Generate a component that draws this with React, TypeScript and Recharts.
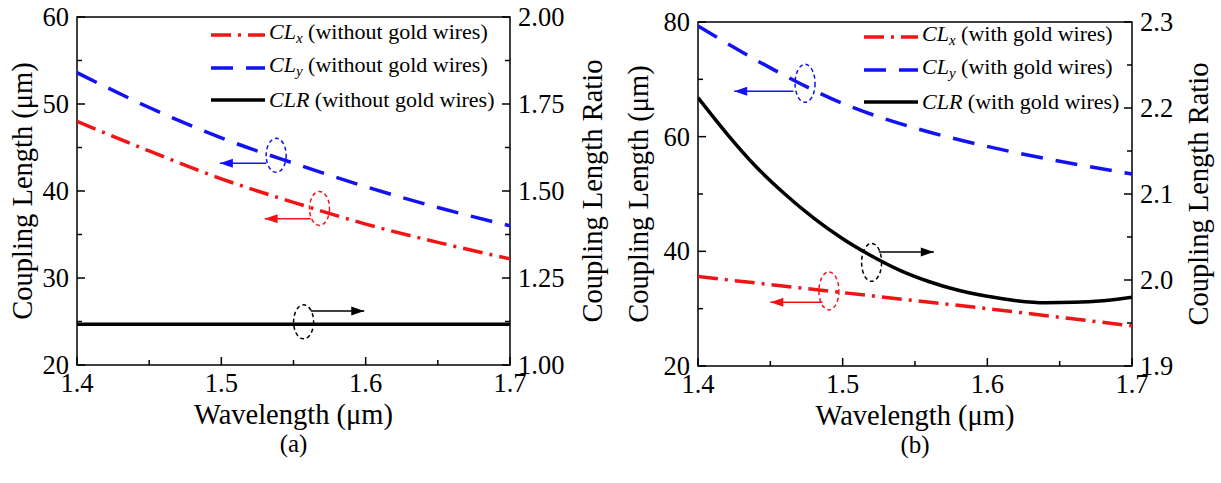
import React from 'react';
import { LineChart, Line, XAxis, YAxis, ReferenceArea, ReferenceLine, ReferenceDot, Legend } from 'recharts';

const FONT = '"Liberation Serif", "Times New Roman", serif';
const RED = '#f21414';
const BLUE = '#1212f5';
const BLACK = '#000000';

// ---------- Panel (a): without gold wires ----------
const wlA = [1.4, 1.45, 1.5, 1.55, 1.6, 1.65, 1.7];
const clxA = [48.0, 44.6, 41.4, 38.7, 36.2, 34.1, 32.2];
const clyA = [53.6, 49.6, 46.1, 43.2, 40.5, 38.1, 36.0];
const clrA = [1.117, 1.117, 1.117, 1.117, 1.117, 1.117, 1.117];

// ---------- Panel (b): with gold wires ----------
const wlB = [1.4, 1.45, 1.5, 1.55, 1.6, 1.65, 1.7];
const clxB = [35.6, 34.2, 32.8, 31.4, 30.0, 28.5, 27.0];
const clyB = [79.3, 72.0, 65.8, 61.5, 58.3, 55.7, 53.5];
const wlRatioB = [1.4, 1.42, 1.44, 1.46, 1.48, 1.5, 1.52, 1.54, 1.56, 1.58, 1.6, 1.62, 1.64, 1.66, 1.68, 1.7];
const clrB = [2.212, 2.17, 2.132, 2.1, 2.072, 2.048, 2.028, 2.011, 1.998, 1.988, 1.981, 1.976, 1.9735, 1.974, 1.976, 1.98];

// ---------- Ticks ----------
const xMajor = [1.4, 1.5, 1.6, 1.7];
const xMinor = [1.45, 1.55, 1.65];
const xLabels = ['1.4', '1.5', '1.6', '1.7'];

const yLeftMajorA = [20, 30, 40, 50, 60];
const yLeftMinorA = [25, 35, 45, 55];
const yLeftLabelsA = ['20', '30', '40', '50', '60'];
const yRightMajorA = [1.0, 1.25, 1.5, 1.75, 2.0];
const yRightMinorA = [1.125, 1.375, 1.625, 1.875];
const yRightLabelsA = ['1.00', '1.25', '1.50', '1.75', '2.00'];

const yLeftMajorB = [20, 40, 60, 80];
const yLeftMinorB = [30, 50, 70];
const yLeftLabelsB = ['20', '40', '60', '80'];
const yRightMajorB = [1.9, 2.0, 2.1, 2.2, 2.3];
const yRightMinorB = [1.95, 2.05, 2.15, 2.25];
const yRightLabelsB = ['1.9', '2.0', '2.1', '2.2', '2.3'];

// ---------- Annotation anchors (data coordinates) ----------
const annA = [
  { axis: 'left', color: BLUE, ex: 1.538, ey: 44.1, ax1: 1.531, ax2: 1.499, ay: 43.2, dir: -1 },
  { axis: 'left', color: RED, ex: 1.568, ey: 38.0, ax1: 1.562, ax2: 1.530, ay: 36.8, dir: -1 },
  { axis: 'right', color: BLACK, ex: 1.557, ey: 1.124, ax1: 1.562, ax2: 1.599, ay: 1.155, dir: 1 },
];
const annB = [
  { axis: 'left', color: BLUE, ex: 1.474, ey: 69.3, ax1: 1.466, ax2: 1.425, ay: 67.9, dir: -1 },
  { axis: 'left', color: RED, ex: 1.4905, ey: 33.1, ax1: 1.486, ax2: 1.45, ay: 31.1, dir: -1 },
  { axis: 'right', color: BLACK, ex: 1.52, ey: 2.0205, ax1: 1.525, ax2: 1.563, ay: 2.0327, dir: 1 },
];

type Series = {
  key: string; sym: string; sub?: string; note: string; color: string;
  dash?: string; width: number; axis: string; data: { wl: number; v: number }[];
};

const zip = (xs: number[], ys: number[]) => xs.map((x, i) => ({ wl: x, v: ys[i] }));

const DASH_DOT = '20 7 3 7';
const DASH = '22 13';

const seriesA: Series[] = [
  { key: 'clx', sym: 'CL', sub: 'x', note: ' (without gold wires)', color: RED, dash: DASH_DOT, width: 3.5, axis: 'left', data: zip(wlA, clxA) },
  { key: 'cly', sym: 'CL', sub: 'y', note: ' (without gold wires)', color: BLUE, dash: DASH, width: 3.5, axis: 'left', data: zip(wlA, clyA) },
  { key: 'clr', sym: 'CLR', note: ' (without gold wires)', color: BLACK, width: 3.5, axis: 'right', data: zip(wlA, clrA) },
];
const seriesB: Series[] = [
  { key: 'clx', sym: 'CL', sub: 'x', note: ' (with gold wires)', color: RED, dash: DASH_DOT, width: 3.5, axis: 'left', data: zip(wlB, clxB) },
  { key: 'cly', sym: 'CL', sub: 'y', note: ' (with gold wires)', color: BLUE, dash: DASH, width: 3.5, axis: 'left', data: zip(wlB, clyB) },
  { key: 'clr', sym: 'CLR', note: ' (with gold wires)', color: BLACK, width: 3.5, axis: 'right', data: zip(wlRatioB, clrB) },
];

const TICK_FS = 26.5;
const TITLE_FS = 28.5;
const MARGIN = 8;

const near = (a: number, b: number) => Math.abs(a - b) < 1e-9;

function makeTick(side: 'left' | 'right' | 'bottom', majors: number[], labels: string[]) {
  return (props: any) => {
    const { x, y, payload } = props;
    const v = payload.value;
    const idx = majors.findIndex((m) => near(m, v));
    const isMajor = idx >= 0;
    const len = isMajor ? 8 : 5;
    const common = { stroke: '#000', strokeWidth: 1.5 };
    const textProps = { fontFamily: FONT, fontSize: TICK_FS, fill: '#000' };
    if (side === 'left') {
      const ax = x + MARGIN;
      return (
        <g>
          <line x1={ax} x2={ax + len} y1={y} y2={y} {...common} />
          {isMajor && <text x={x} y={y} dy={9} textAnchor="end" {...textProps}>{labels[idx]}</text>}
        </g>
      );
    }
    if (side === 'right') {
      const ax = x - MARGIN;
      return (
        <g>
          <line x1={ax} x2={ax - len} y1={y} y2={y} {...common} />
          {isMajor && <text x={x} y={y} dy={9} textAnchor="start" {...textProps}>{labels[idx]}</text>}
        </g>
      );
    }
    const ay = y - MARGIN;
    return (
      <g>
        <line x1={x} x2={x} y1={ay} y2={ay - len} {...common} />
        {isMajor && <text x={x} y={ay + 27} textAnchor="middle" {...textProps}>{labels[idx]}</text>}
      </g>
    );
  };
}

const ellipseShape = (color: string, rx: number, ry: number) => (p: any) => (
  <ellipse cx={p.cx} cy={p.cy} rx={rx} ry={ry} fill="none" stroke={color} strokeWidth={1.5} strokeDasharray="4 3" />
);
const headShape = (color: string, dir: number) => (p: any) => {
  const L = 13, W = 4.5;
  const b = p.cx - dir * L;
  return <polygon points={`${p.cx},${p.cy} ${b},${p.cy - W} ${b},${p.cy + W}`} fill={color} />;
};

function LegendBox({ series }: { series: Series[] }) {
  return (
    <div style={{ fontFamily: FONT, fontSize: 22, color: '#000', lineHeight: '32.5px' }}>
      {series.map((s) => (
        <div key={s.key} style={{ display: 'flex', alignItems: 'center', height: 32.5, whiteSpace: 'nowrap' }}>
          <svg width={54} height={10} style={{ display: 'block' }}>
            <line x1={0} x2={54} y1={5} y2={5} stroke={s.color} strokeWidth={3.5} strokeDasharray={s.dash} />
          </svg>
          <span style={{ marginLeft: 4 }}>
            <i>{s.sym}</i>
            {s.sub && <sub style={{ fontSize: 15, fontStyle: 'italic', verticalAlign: '-4px' }}>{s.sub}</sub>}
            {s.note}
          </span>
        </div>
      ))}
    </div>
  );
}

type PanelProps = {
  width: number; height: number; top: number; leftW: number; rightW: number; xH: number;
  series: Series[]; leftDomain: [number, number]; rightDomain: [number, number];
  yLeftMajor: number[]; yLeftMinor: number[]; yLeftLabels: string[];
  yRightMajor: number[]; yRightMinor: number[]; yRightLabels: string[];
  ann: typeof annA; caption: string; legendLeft: number; legendTop: number;
  leftTitleX: number; rightTitleDX: number; ellRy: number;
};

function Panel(p: PanelProps) {
  const xTicks = [...xMajor, ...xMinor].sort((a, b) => a - b);
  const ylTicks = [...p.yLeftMajor, ...p.yLeftMinor].sort((a, b) => a - b);
  const yrTicks = [...p.yRightMajor, ...p.yRightMinor].sort((a, b) => a - b);
  return (
    <LineChart width={p.width} height={p.height} margin={{ top: p.top, right: 0, left: 0, bottom: 0 }}>
      <XAxis
        xAxisId="x" type="number" dataKey="wl" domain={[1.4, 1.7]} ticks={xTicks} interval={0}
        axisLine={false} tickLine={false} tickSize={0} tickMargin={MARGIN} height={p.xH} allowDataOverflow
        tick={makeTick('bottom', xMajor, xLabels)}
        label={(lp: any) => {
          const vb = lp.viewBox;
          const cx = vb.x + vb.width / 2;
          return (
            <g>
              <text x={cx} y={vb.y + 59} textAnchor="middle" fontFamily={FONT} fontSize={TITLE_FS}>Wavelength (μm)</text>
              <text x={cx} y={vb.y + 87} textAnchor="middle" fontFamily={FONT} fontSize={25}>{p.caption}</text>
            </g>
          );
        }}
      />
      <YAxis
        yAxisId="left" orientation="left" type="number" domain={p.leftDomain} ticks={ylTicks} interval={0}
        axisLine={false} tickLine={false} tickSize={0} tickMargin={MARGIN} width={p.leftW} allowDataOverflow
        tick={makeTick('left', p.yLeftMajor, p.yLeftLabels)}
        label={(lp: any) => {
          const vb = lp.viewBox;
          const cx = p.leftTitleX;
          const cy = vb.y + vb.height / 2;
          return (
            <text x={cx} y={cy} transform={`rotate(-90, ${cx}, ${cy})`} textAnchor="middle" dominantBaseline="central" fontFamily={FONT} fontSize={TITLE_FS}>
              Coupling Length (μm)
            </text>
          );
        }}
      />
      <YAxis
        yAxisId="right" orientation="right" type="number" domain={p.rightDomain} ticks={yrTicks} interval={0}
        axisLine={false} tickLine={false} tickSize={0} tickMargin={MARGIN} width={p.rightW} allowDataOverflow
        tick={makeTick('right', p.yRightMajor, p.yRightLabels)}
        label={(lp: any) => {
          const vb = lp.viewBox;
          const cx = vb.x + p.rightTitleDX;
          const cy = vb.y + vb.height / 2;
          return (
            <text x={cx} y={cy} transform={`rotate(-90, ${cx}, ${cy})`} textAnchor="middle" dominantBaseline="central" fontFamily={FONT} fontSize={TITLE_FS}>
              Coupling Length Ratio
            </text>
          );
        }}
      />
      <ReferenceArea
        xAxisId="x" yAxisId="left" x1={1.4} x2={1.7} y1={p.leftDomain[0]} y2={p.leftDomain[1]}
        fill="none" stroke="#000" strokeWidth={1.5} ifOverflow="visible"
      />
      {p.series.map((s) => (
        <Line
          key={s.key} xAxisId="x" yAxisId={s.axis} data={s.data} dataKey="v" type="monotone"
          stroke={s.color} strokeWidth={s.width} strokeDasharray={s.dash} dot={false}
          isAnimationActive={false} name={s.key}
        />
      ))}
      {p.ann.map((a, i) => (
        <ReferenceDot
          key={`e${i}`} xAxisId="x" yAxisId={a.axis} x={a.ex} y={a.ey} ifOverflow="visible"
          shape={ellipseShape(a.color, 10, p.ellRy)}
        />
      ))}
      {p.ann.map((a, i) => (
        <ReferenceLine
          key={`l${i}`} xAxisId="x" yAxisId={a.axis} ifOverflow="visible"
          segment={[{ x: a.ax1, y: a.ay }, { x: a.ax2, y: a.ay }]}
          stroke={a.color} strokeWidth={1.5}
        />
      ))}
      {p.ann.map((a, i) => (
        <ReferenceDot
          key={`h${i}`} xAxisId="x" yAxisId={a.axis} x={a.ax2} y={a.ay} ifOverflow="visible"
          shape={headShape(a.color, a.dir)}
        />
      ))}
      <Legend
        layout="vertical" verticalAlign="middle" align="center"
        wrapperStyle={{ position: 'absolute', left: p.legendLeft, top: p.legendTop, width: 'auto', height: 'auto' }}
        content={() => <LegendBox series={p.series} />}
      />
    </LineChart>
  );
}

export default function App() {
  return (
    <div style={{ position: 'absolute', left: 0, top: 0, width: 1221, height: 483, background: '#fff', overflow: 'hidden' }}>
      <div style={{ position: 'absolute', left: 0, top: 0 }}>
        <Panel
          width={610} height={483} top={17} leftW={77} rightW={100} xH={118}
          series={seriesA} leftDomain={[20, 60]} rightDomain={[1.0, 2.0]}
          yLeftMajor={yLeftMajorA} yLeftMinor={yLeftMinorA} yLeftLabels={yLeftLabelsA}
          yRightMajor={yRightMajorA} yRightMinor={yRightMinorA} yRightLabels={yRightLabelsA}
          ann={annA} caption="(a)" legendLeft={211} legendTop={19}
          leftTitleX={22} rightTitleDX={82} ellRy={17}
        />
      </div>
      <div style={{ position: 'absolute', left: 610, top: 0 }}>
        <Panel
          width={611} height={483} top={22} leftW={88} rightW={89} xH={117}
          series={seriesB} leftDomain={[20, 80]} rightDomain={[1.9, 2.3]}
          yLeftMajor={yLeftMajorB} yLeftMinor={yLeftMinorB} yLeftLabels={yLeftLabelsB}
          yRightMajor={yRightMajorB} yRightMinor={yRightMinorB} yRightLabels={yRightLabelsB}
          ann={annB} caption="(b)" legendLeft={254} legendTop={21}
          leftTitleX={28} rightTitleDX={66} ellRy={19}
        />
      </div>
    </div>
  );
}
